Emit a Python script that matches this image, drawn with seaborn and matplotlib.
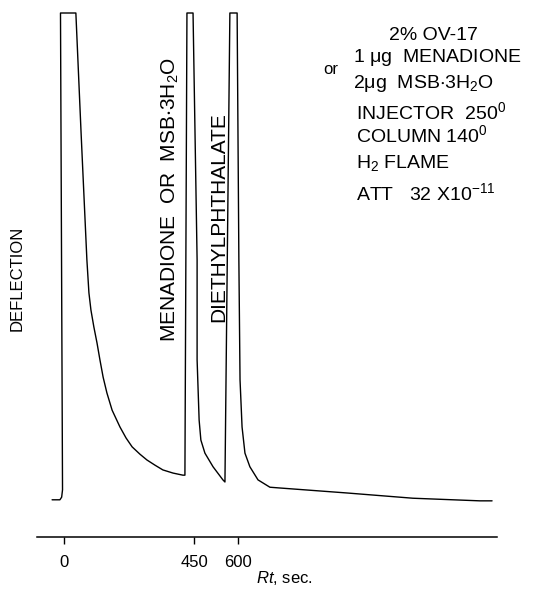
import matplotlib
matplotlib.use("Agg")
import matplotlib.pyplot as plt
import seaborn as sns
import pandas as pd

# ---- data ----
rt_sec = [-41, -14, -8, -5, -12, 41, 59, 79, 86, 93, 103, 114, 124, 135, 148,
          166, 193, 214, 235, 262, 286, 314, 341, 376, 410, 417,
          424, 445, 459, 459, 466, 472, 486, 514, 548, 555,
          572, 597, 603, 607, 614, 624, 641, 669, 710, 745, 976, 1203, 1434, 1476]
deflection = [7.1, 7.1, 7.6, 9.0, 100, 100, 77.1, 52.9, 46.6, 43.3, 40.1, 37.0,
              33.8, 30.5, 27.5, 24.2, 21.0, 18.9, 17.2, 15.8, 14.7, 13.7, 12.8,
              12.2, 11.8, 11.8,
              100, 100, 52.9, 33.8, 22.3, 18.5, 16.0, 13.4, 10.9, 10.5,
              100, 100, 52.9, 30.0, 21.0, 16.0, 13.4, 10.9, 9.5, 9.35, 8.4, 7.4,
              6.9, 6.9]
tick_values = [0, 450, 600]
tick_labels = ["0", "450", "600"]
peak_labels = [r"MENADIONE  OR  MSB$\cdot$3H$_2$O", "DIETHYLPHTHALATE"]
conditions = [
    "2% OV-17",
    r"1 $\mu$g  MENADIONE",
    "or",
    r"2$\mu$g  MSB$\cdot$3H$_2$O",
    r"INJECTOR  250$^0$",
    r"COLUMN 140$^0$",
    r"H$_2$ FLAME",
    r"ATT   32 X10$^{-11}$",
]

sns.set_style("white")
plt.rcParams["font.family"] = ["Liberation Sans", "DejaVu Sans"]
plt.rcParams["mathtext.fontset"] = "custom"
plt.rcParams["mathtext.rm"] = "Liberation Sans"
plt.rcParams["mathtext.it"] = "Liberation Sans:italic"
plt.rcParams["mathtext.default"] = "regular"
plt.rcParams["text.color"] = "black"
plt.rcParams["axes.labelcolor"] = "black"
plt.rcParams["xtick.color"] = "black"

W, H = 546, 592
fig = plt.figure(figsize=(W / 100, H / 100), dpi=100)
ax = fig.add_axes([37 / W, 1 - 537 / H, (497 - 37) / W, (537 - 13) / H])

df = pd.DataFrame({"Rt": rt_sec, "Deflection": deflection})
sns.lineplot(data=df, x="Rt", y="Deflection", sort=False, estimator=None,
             color="black", linewidth=1.0, ax=ax, clip_on=False)

ax.set_xlim(-93, 1493)
ax.set_ylim(0, 100)
for s in ["left", "right", "top"]:
    ax.spines[s].set_visible(False)
ax.spines["bottom"].set_linewidth(1.1)
ax.spines["bottom"].set_color("black")
ax.set_yticks([])
ax.set_xticks(tick_values)
ax.set_xticklabels(tick_labels, fontsize=12)
ax.tick_params(axis="x", direction="out", length=5, width=1.0, pad=8,
               bottom=True, colors="black")
ax.set_ylabel("")
ax.set_xlabel(r"$\it{Rt}$, sec.", fontsize=12, labelpad=2)
ax.xaxis.set_label_coords((284 - 37) / 460, -0.062)


def px(x, y):
    return x / W, 1 - y / H


fig.text(*px(17, 278), "DEFLECTION", rotation=90, ha="center", va="center",
         fontsize=12)
fig.text(*px(170, 200), peak_labels[0], rotation=90, ha="center", va="center",
         fontsize=15)
fig.text(*px(219, 217), peak_labels[1], rotation=90, ha="center", va="center",
         fontsize=15)

fig.text(*px(433, 35), conditions[0], ha="center", va="center", fontsize=14)
fig.text(*px(353, 57), conditions[1], ha="left", va="center", fontsize=14)
fig.text(*px(331, 70), conditions[2], ha="center", va="center", fontsize=12)
fig.text(*px(353, 83), conditions[3], ha="left", va="center", fontsize=14)
fig.text(*px(356, 112), conditions[4], ha="left", va="center", fontsize=14)
fig.text(*px(356, 135), conditions[5], ha="left", va="center", fontsize=14)
fig.text(*px(356, 163), conditions[6], ha="left", va="center", fontsize=14)
fig.text(*px(356, 193), conditions[7], ha="left", va="center", fontsize=14)

fig.savefig("out.png", dpi=100)
